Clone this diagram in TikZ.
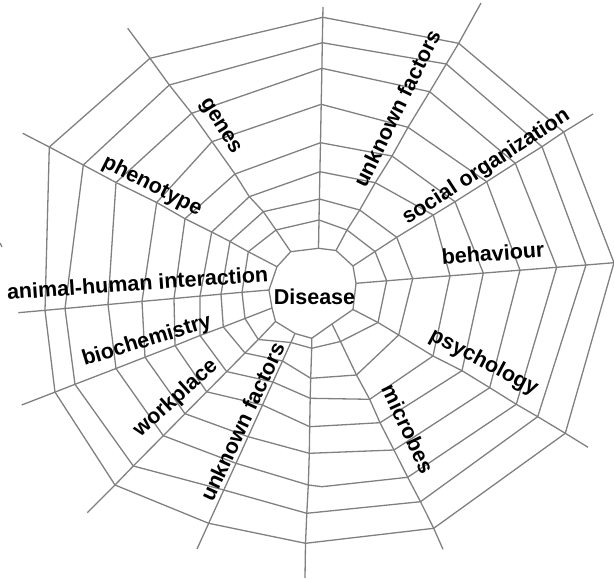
\documentclass[tikz,border=0pt]{standalone}
\usepackage{fontspec}
\setmainfont{Liberation Sans}
\begin{document}
\begin{tikzpicture}[x=1pt,y=-1pt,
  web/.style={draw={rgb,255:red,128;green,128;blue,128},line width=1.3pt,line join=miter},
  lab/.style={inner sep=0pt,font=\fontsize{21.5}{25}\selectfont\bfseries}]
\useasboundingbox (0,0) rectangle (614,580);
\clip (0,0) rectangle (614,580);
% spoke a: top
\coordinate (a0) at (318.5,248.3); \coordinate (a1) at (319,220); \coordinate (a2) at (319.4,199);
\coordinate (a3) at (319.9,171.7); \coordinate (a4) at (320.5,142.7); \coordinate (a5) at (321.2,104.3);
\coordinate (a6) at (321.9,68.3); \coordinate (a7) at (322.3,42.7); \coordinate (a8) at (322.8,17.3);
\coordinate (a9) at (323,7);
% spoke b: unknown factors (upper)
\coordinate (b0) at (336,250.5); \coordinate (b1) at (347,230); \coordinate (b2) at (359.7,210);
\coordinate (b3) at (375.3,182.7); \coordinate (b4) at (392,156); \coordinate (b5) at (408,127.3);
\coordinate (b6) at (429.7,91.7); \coordinate (b7) at (446.3,64); \coordinate (b8) at (458.7,43.3);
\coordinate (b9) at (481,3);
% spoke c: social organization
\coordinate (c0) at (353,266); \coordinate (c1) at (375,251.5); \coordinate (c2) at (396.7,237.3);
\coordinate (c3) at (433.3,215); \coordinate (c4) at (455,201.7); \coordinate (c5) at (486.7,181.7);
\coordinate (c6) at (515.3,163.3); \coordinate (c7) at (542,146.7); \coordinate (c8) at (563.7,132);
\coordinate (c9) at (593,114);
% spoke d: behaviour
\coordinate (d0) at (356,283.3); \coordinate (d1) at (386.7,280.8); \coordinate (d2) at (412.7,278.7);
\coordinate (d3) at (450,275.8); \coordinate (d4) at (483.3,273.1); \coordinate (d5) at (520,270.2);
\coordinate (d6) at (556.7,267.3); \coordinate (d7) at (586,265); \coordinate (d8) at (614,262.7);
\coordinate (d9) at (640,260.6);
% spoke e: psychology
\coordinate (e0) at (353,309.5); \coordinate (e1) at (378,322.5); \coordinate (e2) at (398.7,335);
\coordinate (e3) at (433,356); \coordinate (e4) at (462,370.7); \coordinate (e5) at (489.7,387.7);
\coordinate (e6) at (516.3,404.3); \coordinate (e7) at (537.7,416.7); \coordinate (e8) at (565.3,433.3);
\coordinate (e9) at (588,447.3);
% spoke f: microbes
\coordinate (f0) at (332,324); \coordinate (f1) at (340.5,341.5); \coordinate (f2) at (356.5,375);
\coordinate (f3) at (369.7,399.3); \coordinate (f4) at (380,422.7); \coordinate (f5) at (394,450);
\coordinate (f6) at (407.7,477.3); \coordinate (f7) at (420.5,501.7); \coordinate (f8) at (433.7,528.3);
\coordinate (f9) at (443,549.3);
% spoke g: bottom
\coordinate (g0) at (311.7,338.3); \coordinate (g1) at (311.7,348.3); \coordinate (g2) at (310.7,378.3);
\coordinate (g3) at (310.2,398.3); \coordinate (g4) at (309.7,426.7); \coordinate (g5) at (309.3,453.3);
\coordinate (g6) at (308.3,485); \coordinate (g7) at (306.8,513.3); \coordinate (g8) at (305.5,543.3);
\coordinate (g9) at (305,578);
\coordinate (gk) at (322,486.7);
% spoke h: unknown factors (lower)
\coordinate (h0) at (295,333.5); \coordinate (h1) at (290.9,342.5); \coordinate (h2) at (282.5,361);
\coordinate (h3) at (272.9,382); \coordinate (h4) at (262.5,405); \coordinate (h5) at (248.1,436.7);
\coordinate (h6) at (236,463.3); \coordinate (h7) at (223.8,490); \coordinate (h8) at (208.7,523.3);
\coordinate (h9) at (197,549);
% spoke i: workplace
\coordinate (i0) at (275.5,321.5); \coordinate (i1) at (258.3,339.5); \coordinate (i2) at (245,353);
\coordinate (i3) at (226.7,371.6); \coordinate (i4) at (206.7,391.8); \coordinate (i5) at (185,413.7);
\coordinate (i6) at (163.3,435.7); \coordinate (i7) at (133.3,466); \coordinate (i8) at (115,485);
\coordinate (i9) at (87.3,512.7);
% spoke j: biochemistry
\coordinate (j0) at (272,308); \coordinate (j1) at (245,318.5); \coordinate (j2) at (223.3,326.9);
\coordinate (j3) at (200,335.5); \coordinate (j4) at (175,345.6); \coordinate (j5) at (145,357.2);
\coordinate (j6) at (116,368.5); \coordinate (j7) at (75,384.3); \coordinate (j8) at (55,392.1);
\coordinate (j9) at (21.7,405);
% spoke k: animal-human interaction
\coordinate (k0) at (269,290); \coordinate (k1) at (242,292.3); \coordinate (k2) at (221,294.2);
\coordinate (k3) at (200,296.1); \coordinate (k4) at (174,298.5); \coordinate (k5) at (142,301.4);
\coordinate (k6) at (108,304.5); \coordinate (k7) at (65,308.5); \coordinate (k8) at (45,310.3);
\coordinate (k9) at (18.3,312.7);
% spoke l: phenotype
\coordinate (l0) at (277,266.7); \coordinate (l1) at (248.3,251.7); \coordinate (l2) at (230,241.5);
\coordinate (l3) at (211.7,232); \coordinate (l4) at (185,218.7); \coordinate (l5) at (156.7,202.5);
\coordinate (l6) at (116,182.5); \coordinate (l7) at (83.3,165); \coordinate (l8) at (49.3,147);
\coordinate (l9) at (22.7,133.3);
% spoke m: genes
\coordinate (m0) at (290.7,251.7); \coordinate (m1) at (276,230); \coordinate (m2) at (263.3,211.7);
\coordinate (m3) at (249.3,196.7); \coordinate (m4) at (235,174); \coordinate (m5) at (212,141.7);
\coordinate (m6) at (191.7,113.3); \coordinate (m7) at (169.3,85); \coordinate (m8) at (150,58.3);
\coordinate (m9) at (127.7,28.3);
% spokes
\foreach \s in {a,b,c,d,e,f,g,h,i,j,k,l,m}
  \draw[web] (\s0) -- (\s1) -- (\s2) -- (\s3) -- (\s4) -- (\s5) -- (\s6) -- (\s7) -- (\s8) -- (\s9);
% rings (hub = ring 0)
\foreach \r in {0,1,2,3,4,5,7,8}
  \draw[web] (a\r) -- (b\r) -- (c\r) -- (d\r) -- (e\r) -- (f\r) -- (g\r) -- (h\r) -- (i\r) -- (j\r) -- (k\r) -- (l\r) -- (m\r) -- cycle;
\draw[web] (a6) -- (b6) -- (c6) -- (d6) -- (e6) -- (f6) -- (gk) -- (g6) -- (h6) -- (i6) -- (j6) -- (k6) -- (l6) -- (m6) -- cycle;
% small mark at the left edge
\coordinate (tk1) at (0,243); \coordinate (tk2) at (2,247);
\draw[web] (tk1) -- (tk2);
% labels
\node[lab] (disease) at (314.5,297) {Disease};
\node[lab,rotate=-58] (genes) at (219.7,126.7) {genes};
\node[lab,rotate=-27] (phenotype) at (152,186.3) {phenotype};
\node[lab,rotate=4] (animal) at (137.5,283) {animal-human interaction};
\node[lab,rotate=17] (biochem) at (147,341) {biochemistry};
\node[lab,rotate=42] (workplace) at (175.8,398.3) {workplace};
\node[lab,rotate=65] (ufl) at (242.2,421.7) {unknown factors};
\node[lab,rotate=-65] (microbes) at (408,428.8) {microbes};
\node[lab,rotate=-28] (psychology) at (483.7,362.7) {psychology};
\node[lab,rotate=4.4] (behaviour) at (493,253.3) {behaviour};
\node[lab,rotate=33] (social) at (486.3,167.2) {social organization};
\node[lab,rotate=64] (ufu) at (396.7,108.3) {unknown factors};
\end{tikzpicture}
\end{document}
